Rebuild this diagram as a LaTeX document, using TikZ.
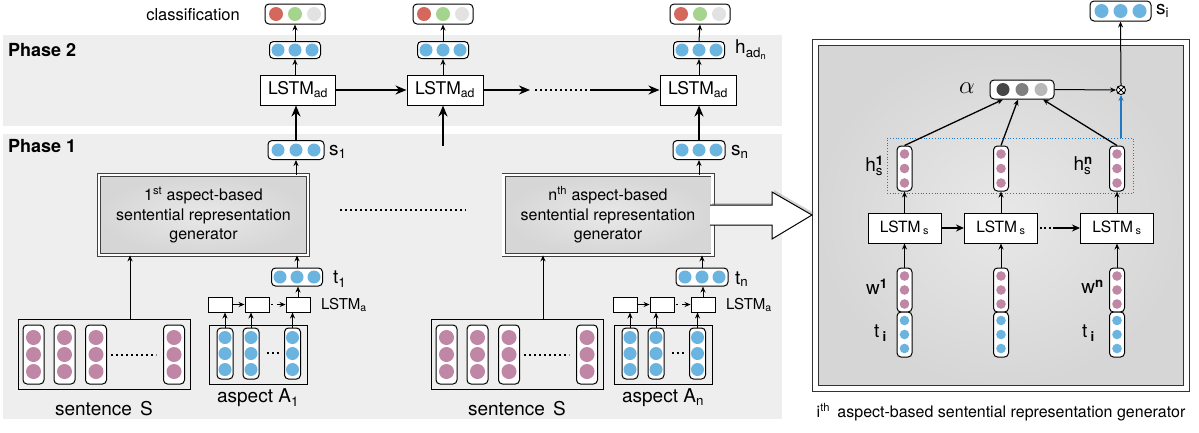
\documentclass[tikz,border=0pt]{standalone}
\usepackage{amsmath}
\usepackage{fontspec}
\setmainfont{TeX Gyre Heros}
\usepackage{xcolor}
\usepackage{tikz}
\usetikzlibrary{arrows.meta,shadows}

\definecolor{bandgray}{RGB}{238,238,238}
\definecolor{boxlight}{RGB}{232,232,232}
\definecolor{boxdark}{RGB}{214,214,214}
\definecolor{dotblue}{RGB}{108,180,224}
\definecolor{dotpurple}{RGB}{192,134,165}
\definecolor{dotred}{RGB}{212,104,92}
\definecolor{dotgreen}{RGB}{165,212,142}
\definecolor{dotlight}{RGB}{226,226,226}
\definecolor{alphadark}{RGB}{70,70,70}
\definecolor{alphamid}{RGB}{128,128,128}
\definecolor{alphalight}{RGB}{184,184,184}
\definecolor{linkblue}{RGB}{30,120,195}

\tikzset{
  vecbox/.style={draw, fill=white, rounded corners=4pt, line width=1pt, inner sep=0pt},
  lstmbox/.style={draw, fill=white, line width=1pt, inner sep=0pt},
  cellbox/.style={draw, fill=white, line width=0.9pt, inner sep=0pt, minimum width=24, minimum height=15},
  genbox/.style={draw=black!75, line width=0.8pt, double=white, double distance=2.4pt,
    inner color=boxlight, outer color=boxdark,
    inner sep=0pt, align=center, font=\fontsize{16}{19.5}\selectfont,
    drop shadow={opacity=0.3, shadow xshift=2pt, shadow yshift=2pt}},
  uparr/.style={-{Stealth[length=6pt,width=5pt]}, line width=1pt},
  midarr/.style={-{Stealth[length=8pt,width=7pt]}, line width=1.8pt},
  bigarr/.style={-{Stealth[length=11pt,width=9pt]}, line width=2.5pt},
  dotline/.style={line width=2pt, dash pattern=on 2pt off 3pt},
  lab/.style={font=\fontsize{19}{22}\selectfont, inner sep=0pt},
}

% box with three dots in a row / in a column
\newcommand{\hvec}[8]{%
  \node[vecbox, minimum width=#4, minimum height=#5] (#1) at (#2,#3) {};
  \foreach \col [count=\ci] in {#8}
    \fill[\col] (#1.center) ++({(\ci-2)*#7},0) circle (#6pt);
}
\newcommand{\vvec}[8]{%
  \node[vecbox, minimum width=#4, minimum height=#5] (#1) at (#2,#3) {};
  \foreach \col [count=\ci] in {#8}
    \fill[\col] (#1.center) ++(0,{(\ci-2)*#7}) circle (#6pt);
}

\begin{document}
\begin{tikzpicture}[x=1pt,y=1pt,yscale=-1]
\useasboundingbox (0,0) rectangle (1199,432);

% Phase bands
\fill[bandgray] (3,35) rectangle (782,126);
\fill[bandgray] (3,134) rectangle (782,419);
\node[anchor=west, font=\fontsize{18}{20}\selectfont\bfseries, inner sep=0pt] (phtwo) at (8,50) {Phase 2};
\node[anchor=west, font=\fontsize{18}{20}\selectfont\bfseries, inner sep=0pt] (phone) at (8,146) {Phase 1};
\node[anchor=east, font=\fontsize{16.5}{18}\selectfont, inner sep=0pt] (cls) at (240,15) {classification};

% Phase 2 columns
\hvec{out1}{295}{14}{60}{20}{7}{19}{dotred,dotgreen,dotlight}
\hvec{had1}{295}{50}{51}{17}{6.5}{17}{dotblue,dotblue,dotblue}
\node[lstmbox, minimum width=75, minimum height=30, font=\fontsize{17.5}{20}\selectfont] (ad1) at (298,90) {LSTM\textsubscript{ad}};
\hvec{out2}{443}{14}{60}{20}{7}{19}{dotred,dotgreen,dotlight}
\hvec{had2}{443}{50}{51}{17}{6.5}{17}{dotblue,dotblue,dotblue}
\node[lstmbox, minimum width=76, minimum height=30, font=\fontsize{17.5}{20}\selectfont] (ad2) at (445,90) {LSTM\textsubscript{ad}};
\hvec{out3}{700}{14}{60}{20}{7}{19}{dotred,dotgreen,dotlight}
\hvec{had3}{699}{50}{51}{17}{6.5}{17}{dotblue,dotblue,dotblue}
\node[lstmbox, minimum width=76, minimum height=30, font=\fontsize{17.5}{20}\selectfont] (ad3) at (698,90) {LSTM\textsubscript{ad}};
\node[lab, anchor=west] (hadlab) at (735,50) {h\textsubscript{ad\textsubscript{n}}};

\foreach \k in {1,2,3} {
  \draw[uparr] (had\k.north) -- (out\k.south);
  \draw[uparr] (had\k.south |- ad\k.north) -- (had\k.south);
}
\coordinate (gapa) at (530,90);
\coordinate (gapb) at (590,90);
\coordinate (adin) at (443,146);
\draw[bigarr] (ad1.east) -- (ad2.west);
\draw[bigarr] (ad2.east) -- (gapa);
\draw[dotline] ([xshift=5pt]gapa) -- (gapb);
\draw[bigarr] (gapb) -- (ad3.west);
\draw[bigarr] (adin) -- (adin |- ad2.south);

% Phase 1 generators
\node[genbox, minimum width=209, minimum height=80] (gen1) at (203.5,215)
  {1\textsuperscript{st} aspect-based\\sentential representation\\generator};
\node[genbox, minimum width=209, minimum height=80] (genn) at (608,215)
  {n\textsuperscript{th} aspect-based\\sentential representation\\generator};
\draw[dotline] (340,210) -- (466,210);

\hvec{s1}{296}{150}{56}{19}{6.5}{18}{dotblue,dotblue,dotblue}
\node[lab, anchor=west] (s1lab) at (329,152) {s\textsubscript{1}};
\hvec{t1}{297}{277}{51}{18}{6.5}{17}{dotblue,dotblue,dotblue}
\node[lab, anchor=west] (t1lab) at (333,279) {t\textsubscript{1}};
\hvec{sn}{699}{150}{52}{19}{6.5}{17}{dotblue,dotblue,dotblue}
\node[lab, anchor=west] (snlab) at (731,152) {s\textsubscript{n}};
\hvec{tn}{702}{277}{52}{18}{6.5}{17}{dotblue,dotblue,dotblue}
\node[lab, anchor=west] (tnlab) at (735,279) {t\textsubscript{n}};

\draw[bigarr] (s1.north) -- (s1.north |- ad1.south);
\draw[bigarr] (sn.north) -- (sn.north |- ad3.south);
\draw[uparr] (s1.south |- gen1.north) -- (s1.south);
\draw[uparr] (sn.south |- genn.north) -- (sn.south);
\draw[uparr] (t1.north) -- (t1.north |- gen1.south);
\draw[uparr] (tn.north) -- (tn.north |- genn.south);

% sentence and aspect inputs
\foreach \sx/\ax/\g in {0/0/1,413/405/n} {
  \node[draw, line width=1pt, minimum width=172, minimum height=70, inner sep=0pt] (sent\g) at (104+\sx,354) {};
  \foreach \px [count=\k] in {33.5,64.5,96,174}
    \vvec{sp\g\k}{\px+\sx}{354.5}{21}{59}{7.5}{17}{dotpurple,dotpurple,dotpurple}
  \draw[dotline] (111+\sx,355) -- (156+\sx,355);
  \node[lab] (slab\g) at (104+\sx,409) {sentence\hspace{3pt} S};
  \draw[uparr] ([xshift=26pt]sent\g.north) -- ([xshift=26pt]sent\g.north |- gen\g.south);

  \node[draw, line width=1pt, minimum width=98, minimum height=59, inner sep=0pt] (asp\g) at (258+\ax,354.5) {};
  \foreach \px [count=\k] in {225,251,292.5}
    \vvec{ap\g\k}{\px+\ax}{353.5}{16}{51}{6.5}{16}{dotblue,dotblue,dotblue}
  \draw[dotline] (267+\ax,353) -- (279+\ax,353);
  \node[lab] (alab\g) at (258+\ax,398) {aspect A\textsubscript{\g}};
  \foreach \px [count=\k] in {220,257,298}
    \node[cellbox] (la\g\k) at (\px+\ax,304.5) {};
  \foreach \k in {1,2,3}
    \draw[uparr] (ap\g\k.north) -- (ap\g\k.north |- la\g\k.south);
  \draw[uparr] (la\g1.east) -- (la\g2.west);
  \draw[line width=1.8pt, dash pattern=on 1.8pt off 3pt] ([xshift=2pt]la\g2.east) -- ++(4,0);
  \draw[uparr] ([xshift=8pt]la\g2.east) -- (la\g3.west);
  \node[lab, anchor=west, font=\fontsize{15}{18}\selectfont] (lalab\g) at (321+\ax,305) {LSTM\textsubscript{a}};
  \draw[uparr] (la\g3.north) -- (la\g3.north |- t\g.south);
}

% i-th generator panel
\node[draw=black!80, line width=1pt, double=white, double distance=5pt,
  inner color=boxlight, outer color=boxdark,
  minimum width=371, minimum height=346, inner sep=0pt,
  drop shadow={opacity=0.3, shadow xshift=2pt, shadow yshift=2pt}] (panel) at (1001,215) {};
\filldraw[fill=white, line width=1pt, drop shadow={opacity=0.35, shadow xshift=2pt, shadow yshift=2pt}]
  (710,205) -- (772,205) -- (772,192) -- (812,215) -- (772,239) -- (772,225) -- (710,225);
\node[font=\fontsize{16}{18}\selectfont, inner sep=0pt] (plab) at (1001,412)
  {i\textsuperscript{th}\hspace{3pt} aspect-based sentential representation generator};

\hvec{si}{1120.5}{11}{61}{20}{7}{19}{dotblue,dotblue,dotblue}
\node[lab, anchor=west] (silab) at (1156,11) {s\textsubscript{i}};
\node[circle, draw, line width=0.9pt, fill=white, minimum size=9, inner sep=0pt] (mul) at (1121,90) {};
\draw[line width=0.8pt] (mul.north west) -- (mul.south east) (mul.north east) -- (mul.south west);
\hvec{al}{1022}{89.5}{64}{19}{6.5}{19}{alphadark,alphamid,alphalight}
\node[anchor=east, font=\fontsize{30}{30}\selectfont, inner sep=0pt] (allab) at (975,88) {$\alpha$};
\draw[uparr] (al.east) -- (mul.west);
\draw[uparr] (mul.north) -- (si.south);
\node[draw=linkblue, dotted, line width=0.8pt, minimum width=246, minimum height=55, inner sep=0pt] (hgrp) at (1010,165.5) {};
\draw[uparr, line width=1.4pt, color=linkblue] (hgrp.north -| mul) -- (mul.south);

\foreach \px [count=\k] in {904.5,1001,1117} {
  \vvec{hp\k}{\px}{168.5}{15}{45}{4.8}{14.5}{dotpurple,dotpurple,dotpurple}
  \node[lstmbox, minimum width=73, minimum height=30, font=\fontsize{15.5}{18}\selectfont] (ls\k) at (\px,228) {LSTM\,\textsubscript{s}};
  \vvec{wp\k}{\px}{290}{15}{44}{4.8}{14}{dotpurple,dotpurple,dotpurple}
  \vvec{tp\k}{\px}{334.5}{15}{45}{4.8}{14}{dotblue,dotblue,dotblue}
  \draw[uparr] (ls\k.north) -- (hp\k.south);
  \draw[uparr] (wp\k.north) -- (ls\k.south);
}
\draw[uparr, line width=1.3pt] (hp1.north) -- ([xshift=-19pt]al.south);
\draw[uparr, line width=1.3pt] (hp2.north) -- ([xshift=-4pt]al.south);
\draw[uparr, line width=1.3pt] (hp3.north) -- ([xshift=21pt]al.south);
\draw[midarr] (ls1.east) -- (ls2.west);
\draw[line width=1.8pt, dash pattern=on 1.8pt off 2.6pt] ([xshift=2pt]ls2.east) -- ++(13,0);
\draw[midarr] ([xshift=15pt]ls2.east) -- (ls3.west);

\node[lab, anchor=east] (h1lab) at (884,166) {h$^{\text{\bfseries 1}}_{\text{s}}$};
\node[lab, anchor=east] (hnlab) at (1093,166) {h$^{\text{\bfseries n}}_{\text{s}}$};
\node[lab, anchor=east] (w1lab) at (888,287) {w\textsuperscript{\bfseries 1}};
\node[lab, anchor=east] (wnlab) at (1104,287) {w\textsuperscript{\bfseries n}};
\node[lab, anchor=east] (ti1lab) at (887,333) {t\,\textsubscript{\bfseries i}};
\node[lab, anchor=east] (tinlab) at (1095,333) {t\,\textsubscript{\bfseries i}};
\end{tikzpicture}
\end{document}
